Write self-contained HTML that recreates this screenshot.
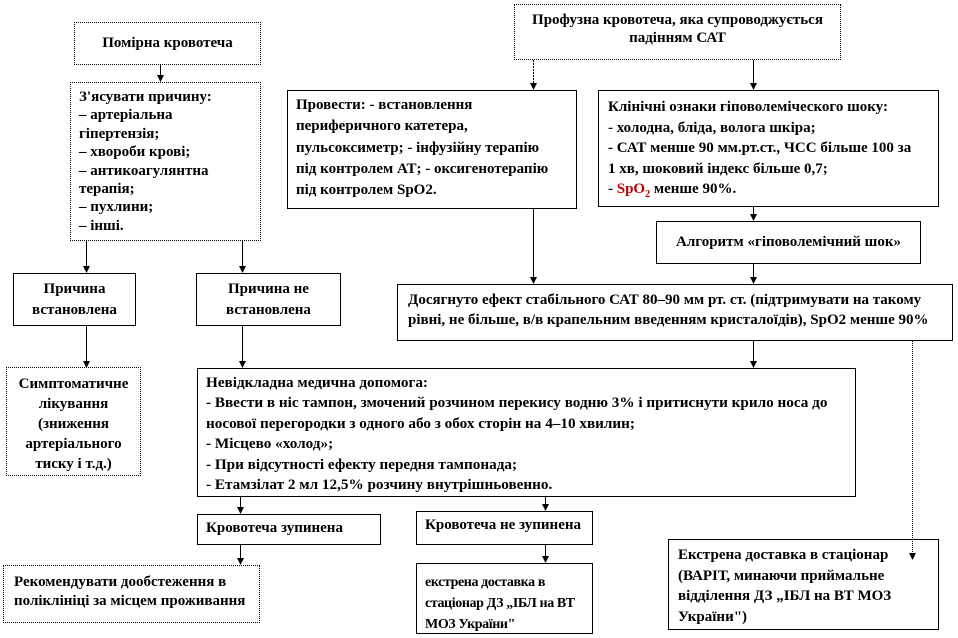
<!DOCTYPE html>
<html><head><meta charset="utf-8"><style>
body{margin:0;width:958px;height:638px;background:#fff;position:relative;overflow:hidden;font-family:"Liberation Serif",serif;font-weight:bold;color:#000}
.b{position:absolute;border:1px solid #000;box-sizing:border-box;font-size:15px;line-height:20.5px;background:#fff;white-space:nowrap;overflow:visible}
.d{border-style:dotted}
.c{text-align:center}
.n{font-size:15.2px;letter-spacing:0px}
svg{position:absolute;left:0;top:0}
</style></head><body>
<div class="b d c" style="left:74px;top:22px;width:187px;height:43px;padding-top:10px">Помірна кровотеча</div>
<div class="b d" style="left:70px;top:82px;width:191px;height:159px;padding:5px 8px;line-height:18.4px">З'ясувати причину:<br>– артеріальна<br>гіпертензія;<br>– хвороби крові;<br>– антикоагулянтна<br>терапія;<br>– пухлини;<br>– інші.</div>
<div class="b d c" style="left:514px;top:4px;width:327px;height:56px;padding-top:6px;line-height:18px">Профузна кровотеча, яка супроводжується<br>падінням САТ</div>
<div class="b" style="left:287px;top:90px;width:290px;height:119px;padding:4px 8px;line-height:21.3px">Провести: - встановлення<br>периферичного катетера,<br>пульсоксиметр; - інфузійну терапію<br>під контролем АТ; - оксигенотерапію<br>під контролем SpO2.</div>
<div class="b" style="left:598px;top:90px;width:341px;height:117px;padding:6px 9px;line-height:20.5px">Клінічні ознаки гіповолеміческого шоку:<br>- холодна, бліда, волога шкіра;<br>- САТ менше 90 мм.рт.ст., ЧСС більше 100 за<br>1 хв, шоковий індекс більше 0,7;<br>- <span style="color:#c00000">SpO<sub style="font-size:10px">2</sub></span> менше 90%.</div>
<div class="b c" style="left:656px;top:221px;width:265px;height:43px;padding-top:10px">Алгоритм «гіповолемічний шок»</div>
<div class="b" style="left:397px;top:284px;width:556px;height:57px;padding:5px 10px;line-height:20px">Досягнуто ефект стабільного САТ 80–90 мм рт. ст. (підтримувати на такому<br>рівні, не більше, в/в крапельним введенням кристалоїдів), SpO2 менше 90%</div>
<div class="b c" style="left:13px;top:273px;width:123px;height:53px;padding-top:5px">Причина<br>встановлена</div>
<div class="b c" style="left:196px;top:273px;width:145px;height:53px;padding-top:5px">Причина не<br>встановлена</div>
<div class="b d c" style="left:6px;top:367px;width:135px;height:109px;padding-top:6px;line-height:20px">Симптоматичне<br>лікування<br>(зниження<br>артеріального<br>тиску і т.д.)</div>
<div class="b n" style="left:197px;top:368px;width:659px;height:129px;padding:4px 8px;line-height:20.4px">Невідкладна  медична допомога:<br>- Ввести в ніс тампон, змочений розчином перекису водню 3% і притиснути крило носа до<br>носової перегородки з одного або з обох сторін на 4–10 хвилин;<br>- Місцево «холод»;<br>- При відсутності  ефекту передня тампонада;<br>- Етамзілат 2 мл 12,5% розчину внутрішньовенно.</div>
<div class="b" style="left:197px;top:514px;width:184px;height:31px;padding:3px 8px">Кровотеча зупинена</div>
<div class="b" style="left:416px;top:511px;width:177px;height:34px;padding:3px 8px">Кровотеча не зупинена</div>
<div class="b d" style="left:3px;top:565px;width:257px;height:58px;padding:7px 10px;line-height:19px">Рекомендувати дообстеження в<br>поліклініці  за місцем проживання</div>
<div class="b" style="left:416px;top:563px;width:177px;height:71px;padding:8px 8px 0;line-height:21px;font-size:14px;letter-spacing:-0.4px">екстрена доставка в<br>стаціонар ДЗ „ІБЛ на ВТ<br>МОЗ України"</div>
<div class="b" style="left:668px;top:539px;width:271px;height:91px;padding:5px 9px;line-height:20.5px">Екстрена доставка в стаціонар<br>(ВАРІТ,  минаючи приймальне<br>відділення  ДЗ „ІБЛ на ВТ МОЗ<br>України")</div>
<svg width="958" height="638">
<g stroke="#000" stroke-width="1" fill="none">
<line x1="160.5" y1="65" x2="160.5" y2="78"/>
<line x1="86.5" y1="241" x2="86.5" y2="270"/>
<line x1="242.5" y1="241" x2="242.5" y2="270"/>
<line x1="533.5" y1="60" x2="533.5" y2="86" stroke-dasharray="2,1"/>
<line x1="753.5" y1="60" x2="753.5" y2="86"/>
<line x1="753.5" y1="207" x2="753.5" y2="217"/>
<line x1="753.5" y1="264" x2="753.5" y2="280"/>
<line x1="533.5" y1="209" x2="533.5" y2="280"/>
<line x1="86.5" y1="326" x2="86.5" y2="364"/>
<line x1="242.5" y1="326" x2="242.5" y2="364"/>
<line x1="753.5" y1="341" x2="753.5" y2="364"/>
<line x1="912.5" y1="341" x2="912.5" y2="553" stroke-dasharray="1,1"/>
<line x1="240.5" y1="497" x2="240.5" y2="510"/>
<line x1="545.5" y1="497" x2="545.5" y2="507"/>
<line x1="240.5" y1="545" x2="240.5" y2="560"/>
<line x1="545.5" y1="545" x2="545.5" y2="559"/>
</g>
<g fill="#000">
<polygon points="157,75 164,75 160.5,82"/>
<polygon points="83,266 90,266 86.5,273"/>
<polygon points="239,266 246,266 242.5,273"/>
<polygon points="530,83 537,83 533.5,90"/>
<polygon points="750,83 757,83 753.5,90"/>
<polygon points="750,214 757,214 753.5,221"/>
<polygon points="750,277 757,277 753.5,284"/>
<polygon points="530,277 537,277 533.5,284"/>
<polygon points="83,361 90,361 86.5,368"/>
<polygon points="239,361 246,361 242.5,368"/>
<polygon points="750,361 757,361 753.5,368"/>
<polygon points="909,553 916,553 912.5,560"/>
<polygon points="237,507 244,507 240.5,514"/>
<polygon points="542,504 549,504 545.5,511"/>
<polygon points="237,558 244,558 240.5,565"/>
<polygon points="542,556 549,556 545.5,563"/>
</g></svg>
</body></html>
